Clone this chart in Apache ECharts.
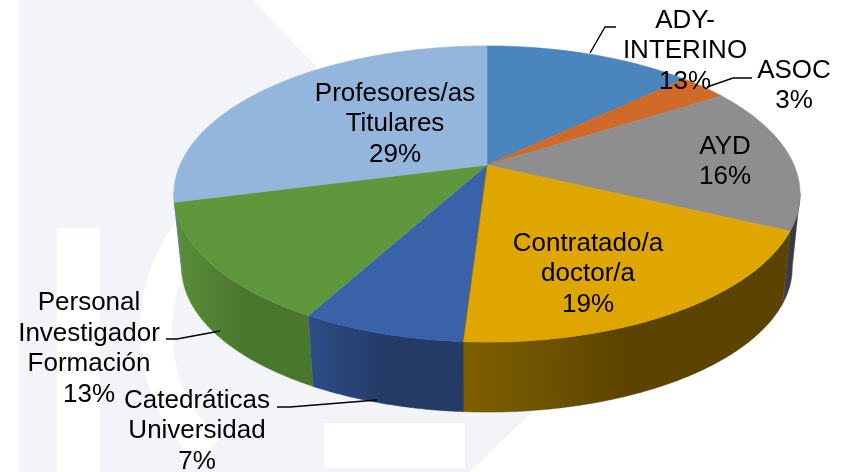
<!DOCTYPE html>
<html>
<head>
<meta charset="utf-8">
<script src="https://cdn.jsdelivr.net/npm/echarts/dist/echarts.min.js"></script>
<style>
html,body{margin:0;padding:0;background:#fff;}
#chart{width:843px;height:472px;}
</style>
</head>
<body>
<div id="chart"></div>
<script>
// ---- data ----
const categories = ['ADY-\nINTERINO', 'ASOC', 'AYD', 'Contratado/a\ndoctor/a', 'Catedráticas\nUniversidad', 'Personal\nInvestigador\nFormación', 'Profesores/as\nTitulares'];
const values = [13, 3, 16, 19, 7, 13, 29];

// ---- styles ----
const topColors = ['#4a86bd', '#d06a28', '#8e8e8e', '#dfa600', '#3a62a8', '#5f983c', '#94b6dd'];
const wallColors = [
  ['#3a6a98', '#2f5680'],
  ['#a45220', '#8a441a'],
  ['#444444', '#3a3a3a'],
  ['#7f6000', '#5b4400'],
  ['#2e4e88', '#233b66'],
  ['#5a8f39', '#4a772e'],
  ['#7394bb', '#6886ab']
];

// ---- 3D view (perspective projection of the pie disc) ----
const view = {cx: 487, cy: 165, A: 307, B: 142.4, k: 0.196, m: 0.975, cyb: 239.4, front: [101, 259]};
function proj(deg, r, bottom) {
  const th = deg * Math.PI / 180;
  const X = r * Math.sin(th), Y = -r * Math.cos(th);
  const t = 1 - view.k * Y;
  if (bottom) return [view.cx + view.m * view.A * X / t, view.cyb + view.m * view.B * Y / t];
  return [view.cx + view.A * X / t, view.cy + view.B * Y / t];
}
function arcPts(a, b, bottom) {
  const pts = [];
  const n = Math.max(2, Math.ceil(Math.abs(b - a) / 0.5));
  for (let j = 0; j <= n; j++) pts.push(proj(a + (b - a) * j / n, 1, bottom));
  return pts;
}
const total = values.reduce((s, v) => s + v, 0);
const starts = [];
values.reduce((acc, v, i) => { starts[i] = acc / total * 360; return acc + v; }, 0);

// ---- label layout (annotation positions) ----
const labelPos = [[685, 51], [794, 86], [725, 162], [588, 274], [197, 431], [89, 349], [395, 124]];
const leaders = [
  [[616, 27], [605, 27], [590, 53]],
  [[752, 78], [733, 78], [707, 87]],
  null, null,
  [[277, 407], [290, 407], [377, 400]],
  [[166, 339], [177, 339], [220, 331]],
  null
];

const graphics = [
  {type: 'rect', z: -10, shape: {x: 0, y: 0, width: 843, height: 472}, style: {fill: '#ffffff'}},
  {type: 'polygon', z: -9, shape: {points: [[19, 0], [253, 0], [591, 355], [470, 472], [19, 472]]}, style: {fill: '#f2f4f8'}},
  {type: 'rect', z: -8, shape: {x: 57, y: 228, width: 43, height: 244}, style: {fill: '#ffffff'}},
  {type: 'sector', z: -8, shape: {cx: 322, cy: 330, r: 182, r0: 150, startAngle: Math.PI * 0.74, endAngle: Math.PI * 1.42, clockwise: true}, style: {fill: '#ffffff'}},
  {type: 'rect', z: -8, shape: {x: 324, y: 423, width: 141, height: 45}, style: {fill: '#ffffff'}}
];
values.forEach((v, i) => {
  const pct = Math.round(v / total * 100) + '%';
  graphics.push({
    type: 'text', z: 100,
    style: {
      text: categories[i] + '\n' + pct,
      x: labelPos[i][0], y: labelPos[i][1],
      align: 'center', verticalAlign: 'middle',
      fontSize: 26, fontFamily: '"Liberation Sans", Arial, sans-serif',
      lineHeight: 30.5, fill: '#000000'
    }
  });
  if (leaders[i]) {
    graphics.push({type: 'polyline', z: 100, shape: {points: leaders[i]}, style: {stroke: '#000000', lineWidth: 1.4, fill: null}});
  }
});

const seriesData = values.map((v, i) => [i, v]);

const option = {
  animation: false,
  graphic: graphics,
  series: [
    {
      type: 'custom', name: 'wall', coordinateSystem: 'none', z: 2, silent: true,
      data: seriesData,
      renderItem: function (params, api) {
        const i = params.dataIndex;
        const a = starts[i], b = a + api.value(1) / total * 360;
        const a2 = Math.max(a, view.front[0]), b2 = Math.min(b, view.front[1]);
        if (b2 <= a2) return {type: 'group', children: []};
        const top = arcPts(a2, b2, false);
        const bot = arcPts(a2, b2, true).reverse();
        return {
          type: 'polygon',
          shape: {points: top.concat(bot)},
          style: {
            fill: new echarts.graphic.LinearGradient(0, 0, 1, 0, [
              {offset: 0, color: wallColors[i][0]},
              {offset: 0.5, color: wallColors[i][1]},
              {offset: 1, color: wallColors[i][1]}
            ]),
            stroke: wallColors[i][1], lineWidth: 0.5
          }
        };
      }
    },
    {
      type: 'custom', name: 'top', coordinateSystem: 'none', z: 3, silent: true,
      data: seriesData,
      renderItem: function (params, api) {
        const i = params.dataIndex;
        const a = starts[i], b = a + api.value(1) / total * 360;
        const pts = [proj(0, 0, false)].concat(arcPts(a, b, false));
        return {
          type: 'polygon',
          shape: {points: pts},
          style: {fill: topColors[i], stroke: topColors[i], lineWidth: 0.6}
        };
      }
    }
  ]
};
const chart = echarts.init(document.getElementById('chart'), null, {renderer: 'canvas'});
chart.setOption(option);
</script>
</body>
</html>
